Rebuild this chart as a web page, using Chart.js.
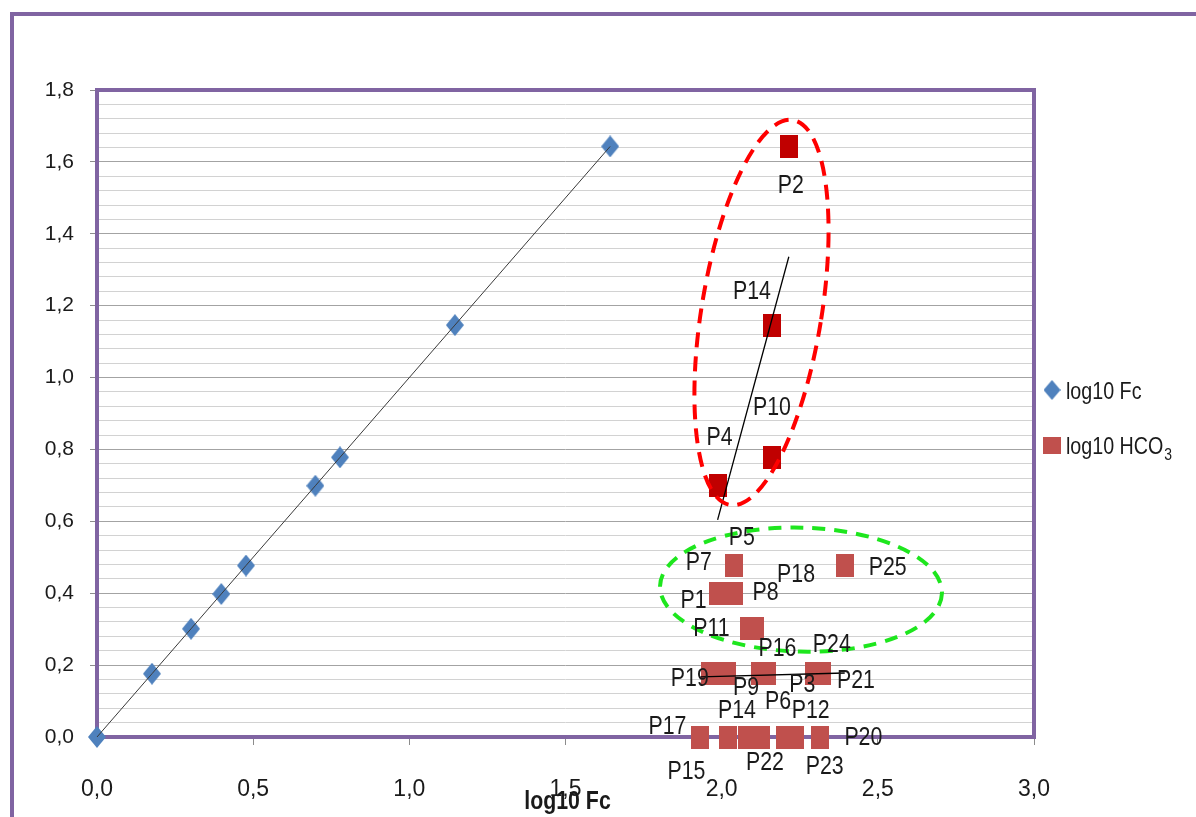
<!DOCTYPE html>
<html>
<head>
<meta charset="utf-8">
<script src="https://cdn.jsdelivr.net/npm/chart.js@4.4.1/dist/chart.umd.min.js"></script>
<style>
  html, body { margin: 0; padding: 0; background: #ffffff; overflow: hidden; }
  canvas { display: block; }
</style>
</head>
<body>
<canvas id="chart" width="1196" height="817"></canvas>
<script>
// ---- data ----------------------------------------------------------------
// log10 Fc against itself (reference 1:1 line)
const fcX = [0, 0.176, 0.301, 0.398, 0.477, 0.699, 0.778, 1.146, 1.643];
const fcY = [0, 0.176, 0.301, 0.398, 0.477, 0.699, 0.778, 1.146, 1.643];

// log10 HCO3 per sample
const hcoNames = ['P2', 'P14', 'P10', 'P4',
  'P5', 'P7', 'P25', 'P1', 'P8', 'P11', 'P18',
  'P19', 'P9', 'P16', 'P3', 'P24', 'P21',
  'P17', 'P15', 'P14', 'P22', 'P6', 'P12', 'P23', 'P20'];
const hcoX = [2.215, 2.161, 2.161, 1.987,
  2.039, 2.039, 2.394, 1.987, 2.041, 2.086, 2.107,
  1.962, 2.017, 2.124, 2.146, 2.295, 2.321,
  1.932, 1.932, 2.020, 2.081, 2.126, 2.202, 2.234, 2.316];
const hcoY = [1.643, 1.146, 0.778, 0.699,
  0.477, 0.477, 0.477, 0.398, 0.398, 0.301, 0.301,
  0.176, 0.176, 0.176, 0.176, 0.176, 0.176,
  0, 0, 0, 0, 0, 0, 0, 0];
// 1 = high-HCO3 group (dark markers)
const hcoGroup = [1, 1, 1, 1,
  0, 0, 0, 0, 0, 0, 0,
  0, 0, 0, 0, 0, 0,
  0, 0, 0, 0, 0, 0, 0, 0];

// linear trend lines of the two groups
const trendHighX = [1.987, 2.215];
const trendHighY = [0.604, 1.336];
const trendLowX = [1.932, 2.394];
const trendLowY = [0.167, 0.178];

// axis tick labels
const xTickLabels = ['0,0', '0,5', '1,0', '1,5', '2,0', '2,5', '3,0'];
const yTickLabels = ['0,0', '0,2', '0,4', '0,6', '0,8', '1,0', '1,2', '1,4', '1,6', '1,8'];
const xTitle = 'log10 Fc';

// ---- presentation ---------------------------------------------------------
// sample label placement (pixel offset from each marker)
const labelDX = [2, -20, 0, 2,
  8, -35, 43, -24, 31, -37, 41,
  -20, 19, 17, 35, 18, 34,
  -33, -14, 9, 18, 17, 26, 30, 43];
const labelDY = [39, -33, -50, -48,
  -28, -3, 2, 7, -1, 0, -54,
  5, 14, -25, 11, -29, 7,
  -10, 35, -26, 26, -35, -26, 30, 1];

const PURPLE = '#8064A2';
const BLUE = '#4F81BD';
const RED = '#C0504D';
const DARK_RED = '#C00000';
const TEXT = '#1a1a1a';
const SANS = '"Liberation Sans", Arial, sans-serif';
const NARROW_SCALE = 0.82;

// dashed outlines around the two sample groups (centre in data units, radii in px)
const groupOutlines = [
  { cx: 2.1275, cy: 1.181, rx: 60, ry: 195, rot: 9.3, color: '#ff0000', width: 4, dash: [15, 9] },
  { cx: 2.254, cy: 0.410, rx: 141, ry: 62, rot: 1.5, color: '#1ee61e', width: 4, dash: [13, 9] }
];

function makeRect(w, h, color) {
  const c = document.createElement('canvas');
  c.width = w; c.height = h;
  const g = c.getContext('2d');
  g.fillStyle = color;
  g.fillRect(0, 0, w, h);
  return c;
}
function makeDiamond(w, h, color) {
  const c = document.createElement('canvas');
  c.width = w; c.height = h;
  const g = c.getContext('2d');
  g.fillStyle = color;
  g.beginPath();
  g.moveTo(w / 2, 0); g.lineTo(w, h / 2); g.lineTo(w / 2, h); g.lineTo(0, h / 2);
  g.closePath(); g.fill();
  return c;
}

// condensed text: regular face squeezed horizontally
function narrowText(ctx, text, x, y, align) {
  ctx.save();
  ctx.translate(x, y);
  ctx.scale(NARROW_SCALE, 1);
  ctx.textAlign = align || 'center';
  ctx.fillText(text, 0, 0);
  const w = ctx.measureText(text).width * NARROW_SCALE;
  ctx.restore();
  return w;
}

const diamondMark = makeDiamond(18, 22, BLUE);
const squareMark = makeRect(18, 23, RED);
const darkSquareMark = makeRect(18, 23, DARK_RED);

const toXY = (xs, ys) => xs.map((x, i) => ({ x: x, y: ys[i] }));

const yGridValues = [];
for (let i = 0; i <= 45; i++) yGridValues.push(+(i * 0.04).toFixed(2));
const isMajorY = v => Math.abs(v * 5 - Math.round(v * 5)) < 1e-6;

// ---- plugins --------------------------------------------------------------
const frame = {
  id: 'frame',
  beforeDraw(chart) {
    const ctx = chart.ctx;
    ctx.save();
    ctx.fillStyle = '#ffffff';
    ctx.fillRect(0, 0, chart.width, chart.height);
    ctx.strokeStyle = PURPLE;
    ctx.lineWidth = 4;
    ctx.strokeRect(12, 14, chart.width + 20, chart.height + 20);
    ctx.restore();
  },
  beforeDatasetsDraw(chart) {
    const a = chart.chartArea, ctx = chart.ctx;
    ctx.save();
    ctx.strokeStyle = PURPLE;
    ctx.lineWidth = 4;
    ctx.strokeRect(a.left, a.top, a.right - a.left, a.bottom - a.top);
    ctx.restore();
  },
  afterDraw(chart) {
    const a = chart.chartArea, ctx = chart.ctx;
    ctx.save();
    ctx.fillStyle = TEXT;
    ctx.textBaseline = 'middle';
    ctx.font = 'bold 26px ' + SANS;
    narrowText(ctx, xTitle, (a.left + a.right) / 2 + 2, 802, 'center');
    ctx.restore();
  }
};

const outlines = {
  id: 'outlines',
  afterDatasetsDraw(chart) {
    const ctx = chart.ctx, xs = chart.scales.x, ys = chart.scales.y;
    groupOutlines.forEach(o => {
      ctx.save();
      ctx.strokeStyle = o.color;
      ctx.lineWidth = o.width;
      ctx.setLineDash(o.dash);
      ctx.beginPath();
      ctx.ellipse(xs.getPixelForValue(o.cx), ys.getPixelForValue(o.cy), o.rx, o.ry, o.rot * Math.PI / 180, 0, Math.PI * 2);
      ctx.stroke();
      ctx.restore();
    });
  }
};

const sampleLabels = {
  id: 'sampleLabels',
  afterDatasetsDraw(chart) {
    const idx = chart.data.datasets.findIndex(d => d.id === 'hco');
    const meta = chart.getDatasetMeta(idx);
    const ctx = chart.ctx;
    ctx.save();
    ctx.font = '26px ' + SANS;
    ctx.fillStyle = TEXT;
    ctx.textBaseline = 'middle';
    meta.data.forEach((pt, i) => {
      narrowText(ctx, hcoNames[i], pt.x + labelDX[i], pt.y + labelDY[i], 'center');
    });
    ctx.restore();
  }
};

const sideLegend = {
  id: 'sideLegend',
  afterDraw(chart) {
    const a = chart.chartArea, ctx = chart.ctx;
    const mx = a.right + 18, tx = a.right + 32;
    ctx.save();
    ctx.drawImage(makeDiamond(17, 20, BLUE), mx - 8.5, 390 - 10);
    ctx.drawImage(makeRect(18, 17, RED), mx - 9, 445 - 8.5);
    ctx.fillStyle = TEXT;
    ctx.textBaseline = 'middle';
    ctx.font = '24px ' + SANS;
    narrowText(ctx, chart.data.datasets.find(d => d.id === 'fc').label, tx, 392, 'left');
    const w = narrowText(ctx, 'log10 HCO', tx, 447, 'left');
    ctx.font = '17px ' + SANS;
    narrowText(ctx, '3', tx + w + 1, 455, 'left');
    ctx.restore();
  }
};

// ---- chart ----------------------------------------------------------------
new Chart(document.getElementById('chart'), {
  type: 'scatter',
  data: {
    datasets: [
      { id: 'trendHigh', type: 'line', data: toXY(trendHighX, trendHighY), borderColor: '#000000', borderWidth: 1.3,
        pointRadius: 0, fill: false, order: 0, clip: false },
      { id: 'trendLow', type: 'line', data: toXY(trendLowX, trendLowY), borderColor: '#000000', borderWidth: 1.3,
        pointRadius: 0, fill: false, order: 0, clip: false },
      { id: 'fcLine', type: 'line', data: toXY(fcX, fcY), borderColor: '#3a3a3a', borderWidth: 1,
        pointRadius: 0, fill: false, order: 0, clip: false },
      { id: 'fc', label: 'log10 Fc', data: toXY(fcX, fcY), pointStyle: diamondMark, pointRadius: 9,
        backgroundColor: BLUE, borderColor: BLUE, order: 2, clip: false },
      { id: 'hco', label: 'log10 HCO3', data: toXY(hcoX, hcoY),
        pointStyle: hcoGroup.map(g => g ? darkSquareMark : squareMark), pointRadius: 9,
        backgroundColor: RED, borderColor: RED, order: 1, clip: false }
    ]
  },
  options: {
    responsive: false,
    animation: false,
    devicePixelRatio: 1,
    events: [],
    layout: { padding: { left: 10, top: 90, right: 162, bottom: 0 } },
    plugins: { legend: { display: false }, tooltip: { enabled: false } },
    scales: {
      x: {
        type: 'linear', position: 'bottom', min: 0, max: 3,
        afterFit(s) { s.height = 80; },
        afterBuildTicks(s) { s.ticks = xTickLabels.map((t, i) => ({ value: i * 0.5 })); },
        border: { display: false },
        grid: { drawOnChartArea: false, drawTicks: true, tickLength: 8, tickColor: '#8c8c8c', lineWidth: 1 },
        ticks: {
          autoSkip: false, maxRotation: 0, padding: 31, color: TEXT,
          font: { family: SANS, size: 23 },
          callback: v => xTickLabels[Math.round(v / 0.5)]
        },
        title: { display: false }
      },
      y: {
        type: 'linear', position: 'left', min: 0, max: 1.8,
        afterFit(s) { s.width = 87; },
        afterBuildTicks(s) { s.ticks = yGridValues.map(v => ({ value: v })); },
        border: { display: false },
        grid: {
          drawTicks: true, tickLength: 7, lineWidth: 1,
          color: c => isMajorY(c.tick.value) ? '#a3a3a3' : '#d2d2d2',
          tickColor: c => isMajorY(c.tick.value) ? '#8c8c8c' : 'rgba(0,0,0,0)'
        },
        ticks: {
          autoSkip: false, padding: 16, color: TEXT,
          font: { family: SANS, size: 21 },
          callback: v => isMajorY(v) ? yTickLabels[Math.round(v / 0.2)] : ''
        }
      }
    }
  },
  plugins: [frame, outlines, sampleLabels, sideLegend]
});
</script>
</body>
</html>
